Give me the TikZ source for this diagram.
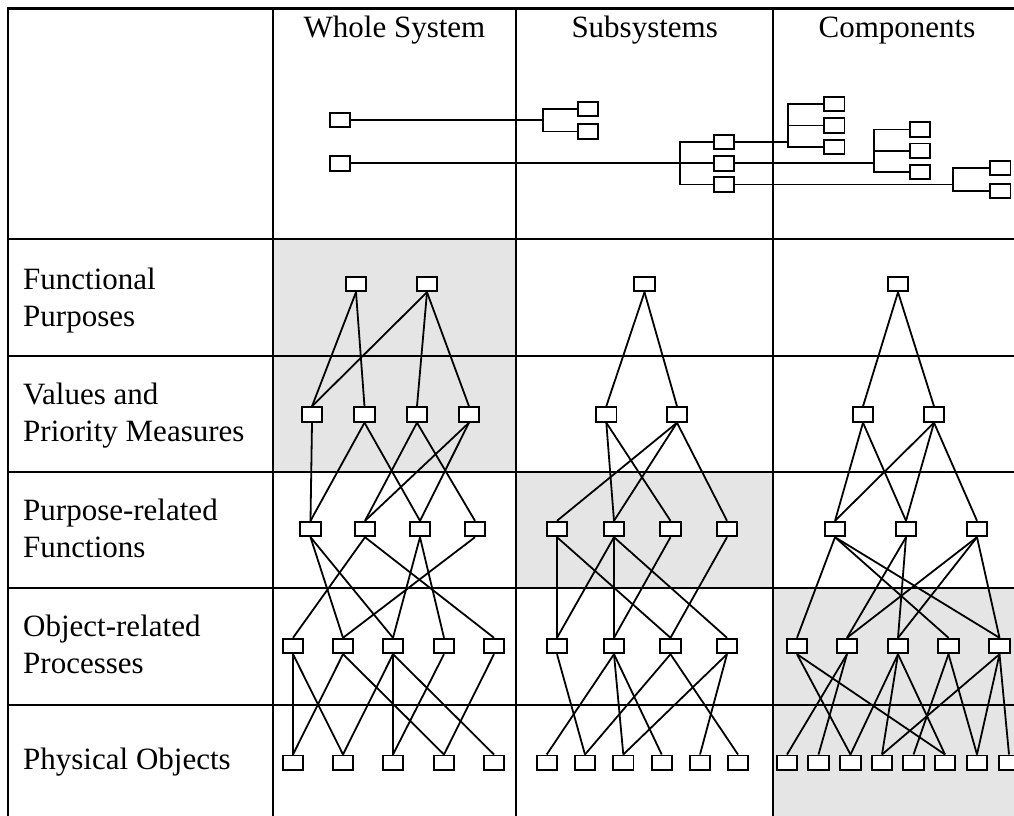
\documentclass[tikz,border=0pt]{standalone}
\usepackage{fontspec}
\setmainfont{Liberation Serif}
\definecolor{cellgray}{HTML}{E5E5E5}
\tikzset{
  gridline/.style={line width=2.3pt},
  unit/.style={draw, line width=1.9pt, fill=white, minimum width=20.3pt,
               minimum height=14.5pt, inner sep=0pt},
  link/.style={line width=1.8pt},
  branch/.style={line width=1.8pt},
  colhead/.style={anchor=base, inner sep=0pt},
  rowlabel/.style={anchor=base west, inner sep=0pt},
}
\newcommand{\twolines}[2]{\begin{tabular}[t]{@{}l@{}}#1\\#2\end{tabular}}
\begin{document}
\begin{tikzpicture}[x=1pt, y=-1pt, font=\fontsize{31}{37}\selectfont]
\useasboundingbox (0,0) rectangle (1014,816);
\clip (0,0) rectangle (1014,816);

% shaded cells
\fill[cellgray] (272.7,239) rectangle (516.3,472);
\fill[cellgray] (516.3,472) rectangle (773,588.3);
\fill[cellgray] (773,588.3) rectangle (1021,821.5);

% table rules
\draw[gridline] (8,8.5) rectangle (1021,821.5);
\foreach \x in {272.7,516.3,773} \draw[gridline] (\x,8.5) -- (\x,821.5);
\foreach \y in {239,355.7,472,588.3,705} \draw[gridline] (8,\y) -- (1021,\y);

% column headings
\node[colhead] (hW) at (394.5,37.7) {Whole System};
\node[colhead] (hS) at (644.7,37.7) {Subsystems};
\node[colhead] (hC) at (897,37.7) {Components};

% row headings
\node[rowlabel] (lFP) at (23,289.5) {\twolines{Functional}{Purposes}};
\node[rowlabel] (lVP) at (23,404.8) {\twolines{Values and}{Priority Measures}};
\node[rowlabel] (lPR) at (23,520)   {\twolines{Purpose-related}{Functions}};
\node[rowlabel] (lOR) at (23,636)   {\twolines{Object-related}{Processes}};
\node[rowlabel] (lPO) at (23,769.4) {Physical Objects};

% ---- decomposition tree in the heading row ----
\node[unit] (t1) at (340,120) {};
\node[unit] (t2) at (340,163.3) {};
\node[unit] (a1) at (588,109) {};
\node[unit] (a2) at (588,131.5) {};
\node[unit] (b1) at (724,142) {};
\node[unit] (b2) at (724,163.3) {};
\node[unit] (b3) at (724,184.5) {};
\node[unit] (c1) at (834.3,104) {};
\node[unit] (c2) at (834.3,125.5) {};
\node[unit] (c3) at (834.3,147) {};
\node[unit] (d1) at (920,129.5) {};
\node[unit] (d2) at (920,150.7) {};
\node[unit] (d3) at (920,172) {};
\node[unit] (e1) at (1000.3,168) {};
\node[unit] (e2) at (1000.3,191) {};
\coordinate (brA) at (543.3,0);
\coordinate (brB) at (680,0);
\coordinate (brC) at (788.3,0);
\coordinate (brD) at (874,0);
\coordinate (brE) at (953.3,0);

\draw[branch] (t1.east) -- (t1.east -| brA);
\draw[branch] (a1.west) -| (brA |- a2.west) -- (a2.west);
\draw[branch] (t2.east) -- (t2.east -| brB);
\draw[branch] (b1.west) -| (brB |- b3.west) -- (b3.west);
\draw[branch] (b2.west) -- (b2.west -| brB);
\draw[branch] (b1.east) -- (b1.east -| brC);
\draw[branch] (c1.west) -| (brC |- c3.west) -- (c3.west);
\draw[branch] (c2.west) -- (c2.west -| brC);
\draw[branch] (b2.east) -- (b2.east -| brD);
\draw[branch] (d1.west) -| (brD |- d3.west) -- (d3.west);
\draw[branch] (d2.west) -- (d2.west -| brD);
\draw[branch] (b3.east) -- (b3.east -| brE);
\draw[branch] (e1.west) -| (brE |- e2.west) -- (e2.west);

% ---- Whole System column ----
\foreach \x [count=\i] in {356,427} \node[unit] (W-fp-\i) at (\x,284) {};
\foreach \x [count=\i] in {312,364.5,417,469} \node[unit] (W-vp-\i) at (\x,414.5) {};
\foreach \x [count=\i] in {310.5,365,420,475} \node[unit] (W-pr-\i) at (\x,529) {};
\foreach \x [count=\i] in {293,343,393,444,494} \node[unit] (W-or-\i) at (\x,646) {};
\foreach \x [count=\i] in {293,343,393,444,494} \node[unit] (W-po-\i) at (\x,762.7) {};
\foreach \a/\b in {1/1,1/2,2/1,2/3,2/4}
  \draw[link] (W-fp-\a.south) -- (W-vp-\b.north);
\foreach \a/\b in {1/1,2/1,2/3,3/2,3/4,4/2,4/3}
  \draw[link] (W-vp-\a.south) -- (W-pr-\b.north);
\foreach \a/\b in {1/2,1/3,2/1,2/5,3/3,3/4,4/2}
  \draw[link] (W-pr-\a.south) -- (W-or-\b.north);
\foreach \a/\b in {1/1,1/2,2/1,2/4,3/2,3/3,3/5,4/3,5/4}
  \draw[link] (W-or-\a.south) -- (W-po-\b.north);

% ---- Subsystems column ----
\node[unit] (S-fp-1) at (644.5,284) {};
\foreach \x [count=\i] in {606.3,677} \node[unit] (S-vp-\i) at (\x,414.5) {};
\foreach \x [count=\i] in {557,614,670.5,727} \node[unit] (S-pr-\i) at (\x,529) {};
\foreach \x [count=\i] in {557,614,670.5,727} \node[unit] (S-or-\i) at (\x,646) {};
\foreach \x [count=\i] in {546.7,585,623.3,661.7,700,738} \node[unit] (S-po-\i) at (\x,762.7) {};
\foreach \b in {1,2}
  \draw[link] (S-fp-1.south) -- (S-vp-\b.north);
\foreach \a/\b in {1/2,1/3,2/1,2/2,2/4}
  \draw[link] (S-vp-\a.south) -- (S-pr-\b.north);
\foreach \a/\b in {1/1,1/3,2/1,2/2,2/4,3/2,4/3}
  \draw[link] (S-pr-\a.south) -- (S-or-\b.north);
\foreach \a/\b in {1/2,2/1,2/3,2/4,3/2,3/6,4/3,4/5}
  \draw[link] (S-or-\a.south) -- (S-po-\b.north);

% ---- Components column ----
\node[unit] (C-fp-1) at (898,284) {};
\foreach \x [count=\i] in {863,934} \node[unit] (C-vp-\i) at (\x,414.5) {};
\foreach \x [count=\i] in {835,906,977} \node[unit] (C-pr-\i) at (\x,529) {};
\foreach \x [count=\i] in {797,847,898,948.5,999.5} \node[unit] (C-or-\i) at (\x,646) {};
\foreach \x [count=\i] in {787,818.5,850.5,882,913.5,945,977,1009} \node[unit] (C-po-\i) at (\x,762.7) {};
\foreach \b in {1,2}
  \draw[link] (C-fp-1.south) -- (C-vp-\b.north);
\foreach \a/\b in {1/1,1/2,2/1,2/2,2/3}
  \draw[link] (C-vp-\a.south) -- (C-pr-\b.north);
\foreach \a/\b in {1/1,1/4,1/5,2/2,2/3,3/2,3/3,3/5}
  \draw[link] (C-pr-\a.south) -- (C-or-\b.north);
\foreach \a/\b in {1/3,1/6,2/1,2/2,3/3,3/4,3/6,4/5,4/7,5/4,5/7,5/8}
  \draw[link] (C-or-\a.south) -- (C-po-\b.north);
\end{tikzpicture}
\end{document}
